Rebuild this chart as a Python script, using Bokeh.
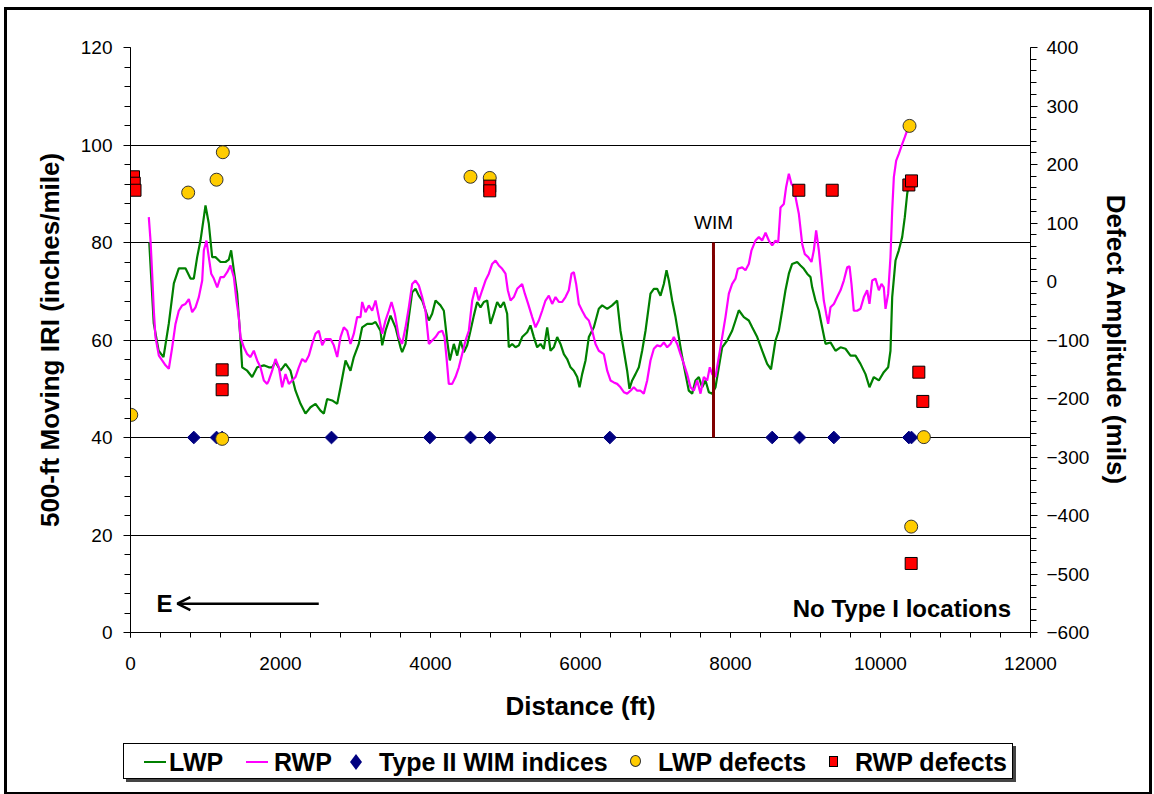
from bokeh.plotting import figure
from bokeh.layouts import column
from bokeh.models import (Range1d, LinearAxis, SingleIntervalTicker, Arrow, OpenHead, Label, Div)
from bokeh.embed import file_html
from bokeh.resources import INLINE

# 500-ft moving IRI, left wheel path (distance ft, IRI in/mi)
lwp_dist = [250, 310, 375, 440, 511, 578, 644, 733, 800, 844, 889, 933, 978, 1000, 1044, 1089,
            1133, 1200, 1267, 1311, 1342, 1378, 1422, 1467, 1489, 1556, 1622, 1689, 1778, 1844,
            1889, 1933, 2000, 2067, 2133, 2200, 2267, 2333, 2400, 2467, 2533, 2578, 2622, 2689,
            2756, 2800, 2867, 2933, 2978, 3044, 3089, 3156, 3222, 3267, 3333, 3356, 3400, 3467,
            3533, 3600, 3622, 3667, 3711, 3756, 3800, 3844, 3889, 3933, 3978, 4022, 4067, 4133,
            4178, 4222, 4258, 4311, 4356, 4400, 4444, 4489, 4533, 4578, 4622, 4667, 4711, 4756,
            4800, 4844, 4889, 4933, 4978, 5022, 5044, 5089, 5133, 5178, 5222, 5289, 5333, 5378,
            5422, 5467, 5511, 5556, 5600, 5644, 5689, 5733, 5778, 5822, 5867, 5911, 5956, 5987,
            6022, 6067, 6111, 6178, 6244, 6289, 6356, 6422, 6489, 6533, 6578, 6622, 6653, 6689,
            6733, 6778, 6822, 6867, 6933, 6978, 7022, 7067, 7111, 7147, 7178, 7222, 7267, 7311,
            7356, 7400, 7444, 7489, 7533, 7578, 7622, 7667, 7711, 7756, 7800, 7844, 7889, 7956,
            8022, 8067, 8111, 8178, 8244, 8289, 8356, 8422, 8489, 8540, 8600, 8644, 8689, 8733,
            8778, 8822, 8889, 8933, 8978, 9022, 9067, 9089, 9133, 9178, 9222, 9267, 9333, 9400,
            9467, 9533, 9600, 9667, 9733, 9800, 9853, 9911, 9978, 10044, 10102, 10133, 10156,
            10200, 10244, 10289, 10324, 10356, 10378]
lwp_iri = [80.0, 63.4, 57.8, 56.5, 63.4, 71.6, 74.7, 74.7, 72.6, 72.6, 77.0, 80.4, 85.2, 87.6,
           83.9, 77.0, 77.0, 76.0, 76.0, 76.5, 78.4, 74.3, 69.5, 59.9, 54.4, 53.7, 52.4, 54.4,
           54.8, 54.4, 54.4, 55.5, 53.7, 55.1, 53.7, 49.6, 46.9, 44.9, 46.2, 46.9, 45.5, 44.9,
           47.9, 47.6, 46.9, 50.3, 55.8, 53.7, 56.5, 59.2, 62.6, 63.3, 63.3, 63.7, 61.9, 58.9,
           61.9, 65.0, 62.6, 58.5, 57.5, 59.2, 64.7, 69.8, 70.5, 69.1, 68.1, 66.1, 64.0, 65.4,
           68.1, 67.1, 66.0, 59.9, 55.8, 59.2, 56.8, 59.9, 57.5, 58.9, 61.9, 65.0, 67.8, 66.7,
           67.8, 68.1, 63.3, 65.4, 67.8, 66.7, 67.8, 65.4, 58.5, 59.2, 58.5, 58.9, 60.6, 61.6,
           63.0, 60.6, 58.5, 59.2, 58.2, 62.6, 57.8, 58.5, 60.6, 59.2, 57.1, 56.1, 54.4, 53.7,
           52.4, 50.3, 53.0, 55.8, 60.6, 62.6, 66.4, 67.1, 66.4, 67.1, 68.1, 61.9, 57.8, 53.7,
           50.0, 51.7, 53.0, 54.4, 57.8, 61.9, 69.5, 70.5, 70.5, 69.1, 71.5, 74.3, 72.2, 68.1,
           64.7, 60.6, 56.5, 53.0, 49.6, 49.0, 51.7, 52.4, 50.3, 51.7, 49.3, 49.0, 50.3, 54.4,
           58.5, 59.9, 61.9, 64.0, 66.1, 64.7, 64.0, 62.6, 60.6, 57.8, 55.1, 54.0, 59.9, 61.9,
           66.0, 70.2, 73.6, 75.6, 76.0, 75.3, 74.6, 73.6, 72.9, 70.8, 68.1, 66.0, 62.6, 59.2,
           59.5, 57.8, 58.5, 58.2, 56.8, 56.8, 55.1, 53.0, 50.3, 52.4, 51.7, 53.4, 54.4, 57.8,
           68.8, 76.3, 78.4, 81.1, 85.2, 90.0, 92.0]

# 500-ft moving IRI, right wheel path
rwp_dist = [244, 267, 289, 311, 333, 378, 422, 467, 511, 556, 600, 644, 689, 733, 778, 822, 867,
            911, 956, 978, 1013, 1044, 1076, 1111, 1156, 1200, 1244, 1289, 1333, 1378, 1413,
            1444, 1467, 1511, 1556, 1600, 1644, 1689, 1733, 1778, 1822, 1844, 1889, 1933, 1978,
            2022, 2067, 2111, 2156, 2200, 2244, 2289, 2333, 2378, 2422, 2467, 2511, 2556, 2600,
            2667, 2711, 2756, 2800, 2844, 2889, 2933, 2978, 3022, 3067, 3089, 3133, 3178, 3222,
            3267, 3311, 3356, 3400, 3444, 3480, 3524, 3578, 3622, 3667, 3711, 3756, 3800, 3844,
            3889, 3933, 3978, 4022, 4067, 4111, 4156, 4187, 4213, 4244, 4289, 4333, 4378, 4422,
            4467, 4511, 4556, 4600, 4644, 4689, 4733, 4778, 4822, 4867, 4911, 4956, 5000, 5031,
            5067, 5111, 5156, 5222, 5258, 5302, 5356, 5400, 5444, 5489, 5533, 5578, 5622, 5667,
            5711, 5756, 5800, 5844, 5880, 5911, 5942, 5978, 6022, 6067, 6111, 6156, 6200, 6244,
            6311, 6356, 6400, 6444, 6489, 6533, 6578, 6622, 6667, 6711, 6756, 6800, 6844, 6889,
            6933, 6978, 7022, 7067, 7111, 7156, 7200, 7244, 7289, 7333, 7378, 7422, 7467, 7511,
            7556, 7600, 7644, 7689, 7724, 7756, 7800, 7844, 7889, 7933, 7978, 8022, 8067, 8098,
            8156, 8200, 8244, 8280, 8333, 8378, 8422, 8467, 8511, 8556, 8600, 8636, 8667, 8711,
            8742, 8778, 8813, 8844, 8876, 8911, 8956, 8991, 9036, 9080, 9111, 9142, 9178, 9213,
            9244, 9276, 9302, 9333, 9378, 9422, 9467, 9511, 9556, 9587, 9613, 9644, 9689, 9733,
            9778, 9822, 9853, 9889, 9933, 9978, 10013, 10044, 10067, 10102, 10133, 10156, 10178,
            10209, 10244, 10289, 10324, 10356, 10369]
rwp_iri = [85.2, 80.4, 73.6, 66.0, 60.6, 56.8, 55.8, 54.8, 54.1, 58.5, 63.3, 66.0, 67.1, 67.4,
           68.4, 65.7, 66.7, 68.8, 72.2, 78.4, 80.4, 77.0, 73.6, 72.6, 70.8, 72.9, 72.9, 73.9,
           75.3, 72.9, 68.1, 64.7, 60.6, 58.5, 57.1, 56.5, 57.8, 55.8, 54.4, 51.7, 51.0, 51.7,
           53.7, 56.1, 54.4, 50.3, 53.0, 51.0, 51.7, 52.4, 54.4, 56.1, 55.5, 56.8, 59.2, 61.3,
           61.9, 58.9, 60.2, 60.2, 58.9, 56.5, 60.6, 62.6, 61.9, 59.2, 61.3, 64.7, 64.7, 67.8,
           65.7, 67.1, 66.0, 68.1, 64.7, 61.3, 64.0, 66.0, 67.8, 65.4, 60.6, 59.2, 62.6, 66.7,
           71.5, 72.2, 71.2, 68.8, 66.0, 59.2, 59.9, 60.6, 61.6, 61.9, 60.6, 56.5, 51.0, 51.0,
           52.4, 54.4, 57.1, 59.9, 61.9, 68.1, 70.8, 68.1, 70.2, 72.2, 73.6, 75.6, 76.3, 75.3,
           74.6, 73.6, 70.2, 68.1, 68.8, 70.5, 71.5, 69.5, 67.4, 64.7, 62.6, 64.0, 66.0, 68.1,
           69.1, 67.4, 68.8, 67.8, 67.8, 68.8, 70.2, 73.6, 73.9, 71.5, 67.4, 66.0, 64.7, 64.0,
           61.9, 59.2, 57.8, 57.1, 53.7, 51.7, 51.3, 51.0, 50.3, 49.3, 49.0, 49.6, 50.3, 49.6,
           49.6, 49.0, 51.7, 55.8, 58.2, 58.9, 58.7, 59.5, 58.5, 59.2, 60.6, 59.2, 57.1, 55.1,
           53.0, 50.3, 49.6, 51.7, 49.0, 52.4, 51.7, 54.4, 53.0, 52.4, 56.5, 60.6, 64.7, 69.5,
           71.5, 72.6, 74.6, 74.9, 74.3, 75.6, 78.4, 80.4, 81.1, 80.4, 82.0, 80.4, 79.4, 80.4,
           80.0, 87.2, 87.9, 91.4, 94.1, 92.0, 91.4, 88.6, 85.9, 79.7, 77.6, 77.0, 76.0, 78.4,
           82.5, 78.4, 72.9, 68.1, 65.4, 63.3, 66.7, 67.4, 68.8, 70.2, 72.2, 74.9, 75.1, 71.5,
           66.0, 66.0, 66.4, 68.8, 70.2, 67.4, 72.2, 72.6, 70.2, 71.5, 70.8, 66.4, 69.5, 77.0,
           86.6, 93.4, 96.8, 98.2, 100.2, 101.6, 103.0, 103.7]

# Type II WIM index locations (plotted on the 40 in/mi line)
wim_idx_dist = [844, 1147, 1222, 2680, 3991, 4533, 4791, 6391, 8556, 8920, 9378, 10378, 10413]
wim_idx_iri = [40] * len(wim_idx_dist)

# Defect locations and amplitudes (mils)
lwp_def_dist = [10, 769, 1147, 1231, 1222, 4533, 4790, 10387, 10409, 10578]
lwp_def_amp = [-228, 152, 174, 221, -269, 179, 177, 266, -419, -266]
rwp_def_dist = [40, 50, 60, 1222, 1222, 4790, 4790, 8911, 9356, 10378, 10413, 10511, 10564, 10409]
rwp_def_amp = [179, 168, 156, -151, -185, 163, 155, 156, 156, 165, 172, -155, -205, -482]

# WIM scale location
wim_x = 7773
wim_span = (40, 80)

series_names = ["LWP", "RWP", "Type II WIM indices", "LWP defects", "RWP defects"]

FONT = "Liberation Sans"
C_LWP, C_RWP, C_IDX, C_LDEF, C_RDEF = "#008000", "#FF00FF", "#000080", "#FFCC00", "#FF0000"

p = figure(width=1142, height=725, output_backend="svg", toolbar_location=None,
           x_range=Range1d(0, 12000), y_range=Range1d(0, 120),
           min_border_left=123, min_border_right=119, min_border_top=37, min_border_bottom=103)
p.outline_line_color = None
p.xgrid.visible = False
p.ygrid.grid_line_color = "black"
p.ygrid.grid_line_width = 1
p.ygrid.ticker = SingleIntervalTicker(interval=20)

def style_axis(ax, standoff, label_standoff):
    ax.axis_line_color = "black"
    ax.major_tick_line_color = "black"
    ax.minor_tick_line_color = "black"
    ax.major_tick_in = 0
    ax.minor_tick_in = 0
    ax.major_tick_out = 7
    ax.minor_tick_out = 6
    ax.major_label_text_font = FONT
    ax.major_label_text_font_size = "19px"
    ax.major_label_text_color = "black"
    ax.major_label_standoff = standoff
    ax.axis_label_text_font = FONT
    ax.axis_label_text_font_style = "bold"
    ax.axis_label_text_font_size = "26px"
    ax.axis_label_text_color = "black"
    ax.axis_label_standoff = label_standoff

p.xaxis.ticker = SingleIntervalTicker(interval=2000, num_minor_ticks=5)
p.xaxis.axis_label = "Distance (ft)"
style_axis(p.xaxis[0], 19, 18)
p.xaxis.major_tick_out = 5
p.xaxis.minor_tick_out = 5

p.yaxis.ticker = SingleIntervalTicker(interval=20, num_minor_ticks=5)
p.yaxis.axis_label = "500-ft Moving IRI (inches/mile)"
style_axis(p.yaxis[0], 11, 13)

p.extra_y_ranges = {"mils": Range1d(-600, 400)}
raxis = LinearAxis(y_range_name="mils", axis_label="Defect Amplitude (mils)",
                   ticker=SingleIntervalTicker(interval=100, num_minor_ticks=5))
style_axis(raxis, 9, 9)
p.add_layout(raxis, "right")

p.line(lwp_dist, lwp_iri, line_color=C_LWP, line_width=2.2)
p.line(rwp_dist, rwp_iri, line_color=C_RWP, line_width=2.2)

# WIM scale marker
p.segment(x0=[wim_x], y0=[wim_span[0]], x1=[wim_x], y1=[wim_span[1]],
          line_color="#800000", line_width=3)
p.add_layout(Label(x=wim_x, y=wim_span[1] + 2, text="WIM", text_align="center",
                   text_baseline="bottom", text_font=FONT, text_font_size="19px",
                   text_color="black"))

p.scatter(wim_idx_dist, wim_idx_iri, marker="square", angle=0.785398, size=9,
          fill_color=C_IDX, line_color=C_IDX)
p.scatter(lwp_def_dist, lwp_def_amp, y_range_name="mils", marker="circle", size=13,
          fill_color=C_LDEF, line_color="#333333", line_width=1)
p.scatter(rwp_def_dist, rwp_def_amp, y_range_name="mils", marker="square", size=12,
          fill_color=C_RDEF, line_color="#000000", line_width=1)

# direction arrow and notes
p.add_layout(Arrow(end=OpenHead(size=13, line_width=2.5, line_color="black"),
                   x_start=2510, y_start=5.9, x_end=625, y_end=5.9,
                   line_width=2.5, line_color="black"))
p.add_layout(Label(x=455, y=5.9, text="E", text_align="center", text_baseline="middle",
                   text_font=FONT, text_font_style="bold", text_font_size="24px",
                   text_color="black"))
p.add_layout(Label(x=11740, y=4.9, text="No Type I locations", text_align="right",
                   text_baseline="middle", text_font=FONT, text_font_style="bold",
                   text_font_size="24px", text_color="black"))

# legend strip under the chart (boxed, with a drop shadow)
line_key = ('<span style="position:absolute;left:{x}px;top:17px;width:22px;height:0;'
            'border-top:2px solid {c}"></span>')
diamond_key = ('<svg width="12" height="16" style="position:absolute;left:{x}px;top:10px">'
               '<polygon points="6,0 12,8 6,16 0,8" fill="{c}"/></svg>')
circle_key = ('<span style="position:absolute;left:{x}px;top:11px;width:11px;height:12px;'
              'border-radius:50%;background:{c};border:1px solid #333"></span>')
square_key = ('<span style="position:absolute;left:{x}px;top:12px;width:9px;height:11px;'
              'background:{c};border:1px solid #000"></span>')
key_templates = [line_key, line_key, diamond_key, circle_key, square_key]
key_colors = [C_LWP, C_RWP, C_IDX, C_LDEF, C_RDEF]
key_left = [20, 122, 226, 506, 705]
text_left = [45, 150, 255, 534, 731]
items_html = "".join(
    t.format(x=kx, c=c) +
    f'<span style="position:absolute;left:{tx}px;top:0;line-height:36px;white-space:nowrap">'
    f'{name}</span>'
    for t, c, kx, tx, name in zip(key_templates, key_colors, key_left, text_left, series_names))
legend_html = (
    f'<div style="position:absolute;left:116px;top:8px;width:890px;height:36px;'
    f'border:1px solid #000;background:#fff;box-shadow:3px 3px 0 #444;'
    f'font-family:\'{FONT}\';font-weight:bold;font-size:25px;color:#000">{items_html}</div>')
legend_div = Div(text=legend_html, width=1142, height=57, margin=0,
                 styles={"position": "relative"})

page = column(p, legend_div, spacing=0)
page.styles = {"border": "3px solid #000000", "margin-left": "4px", "margin-top": "7px"}

open("out.html", "w").write(file_html(page, INLINE))
